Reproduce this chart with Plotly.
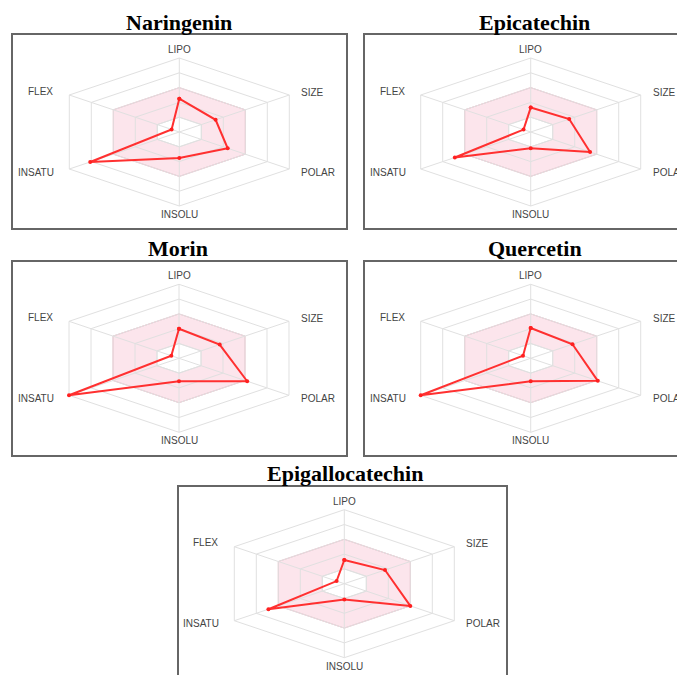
import numpy as np
import plotly.graph_objects as go

# ---------------- data ----------------
axes_labels = ["LIPO", "SIZE", "POLAR", "INSOLU", "INSATU", "FLEX"]
axes_angles = [90, 30, -30, -90, -150, 150]          # degrees
grid_levels = [0.2, 0.4, 0.6, 0.8, 1.0]
optimal_outer = [0.6, 0.6, 0.6, 0.6, 0.6, 0.6]
optimal_inner = [0.2, 0.2, 0.2, 0.2, 0.2, 0.2]

compounds = ["Naringenin", "Epicatechin", "Morin", "Quercetin", "Epigallocatechin"]
naringenin = [0.45, 0.33, 0.44, 0.35, 0.81, 0.07]
epicatechin = [0.33, 0.35, 0.54, 0.22, 0.69, 0.065]
morin = [0.40, 0.37, 0.62, 0.31, 1.00, 0.07]
quercetin = [0.41, 0.38, 0.61, 0.31, 1.00, 0.07]
epigallocatechin = [0.32, 0.37, 0.60, 0.215, 0.69, 0.07]
values = [naringenin, epicatechin, morin, quercetin, epigallocatechin]

# ---------------- layout (pixels in the 685x675 window) ----------------
WIN_W, WIN_H = 685, 675
PAGE_MARGIN = 8                      # default body margin of the html page
W, H = WIN_W - PAGE_MARGIN, WIN_H - PAGE_MARGIN
SX, SY = 127.0, 74.0                 # pixels per unit radius (x stretched)

panels = [
    dict(box=(12, 34, 347, 229), c=(179.3, 132.0), t=(179, 23)),
    dict(box=(364, 34, 692, 229), c=(530.7, 132.0), t=(534, 23)),
    dict(box=(12, 261, 347, 456), c=(179.0, 358.3), t=(178, 248)),
    dict(box=(364, 261, 692, 456), c=(530.7, 358.3), t=(535, 248)),
    dict(box=(178, 486, 507, 690), c=(344.3, 583.7), t=(345, 474)),
]


def px(x):
    return (x - PAGE_MARGIN) / W


def py(y):
    return 1 - (y - PAGE_MARGIN) / H


ang = np.radians(axes_angles)
cosA, sinA = np.cos(ang), np.sin(ang)


def ring(r):
    r = np.asarray(r, dtype=float)
    x = list(r * cosA) + [r[0] * cosA[0]]
    y = list(r * sinA) + [r[0] * sinA[0]]
    return x, y


fig = go.Figure()
annotations = []
shapes = []

label_pos = {
    "LIPO": dict(xanchor="center", yanchor="bottom", xshift=0, yshift=1),
    "SIZE": dict(xanchor="left", yanchor="middle", xshift=10, yshift=3),
    "POLAR": dict(xanchor="left", yanchor="middle", xshift=10, yshift=-3),
    "INSOLU": dict(xanchor="center", yanchor="top", xshift=0, yshift=-1),
    "INSATU": dict(xanchor="right", yanchor="middle", xshift=-13, yshift=-3),
    "FLEX": dict(xanchor="right", yanchor="middle", xshift=-14, yshift=4),
}

for i, (name, vals, p) in enumerate(zip(compounds, values, panels)):
    k = "" if i == 0 else str(i + 1)
    xa, ya = "x" + k, "y" + k
    L, T, R, B = p["box"]
    cx, cy = p["c"]
    Rd = min(R, WIN_W)
    Bd = min(B, WIN_H)
    xdom = [px(L), px(Rd)]
    ydom = [py(Bd), py(T)]
    xr = [(L - cx) / SX, (Rd - cx) / SX]
    yr = [-(Bd - cy) / SY, (cy - T) / SY]
    axis_common = dict(showgrid=False, zeroline=False, showticklabels=False,
                       showline=False, ticks="", fixedrange=True)
    fig.update_layout(**{
        ("xaxis" + k): dict(domain=xdom, range=xr, anchor=ya, **axis_common),
        ("yaxis" + k): dict(domain=ydom, range=yr, anchor=xa, **axis_common),
    })

    # pink optimal band
    ox, oy = ring(optimal_outer)
    fig.add_trace(go.Scatter(x=ox, y=oy, mode="lines", fill="toself",
                             fillcolor="#fce5ec", line=dict(color="#f4b3c4", width=1),
                             hoverinfo="skip", showlegend=False, xaxis=xa, yaxis=ya))
    ix, iy = ring(optimal_inner)
    fig.add_trace(go.Scatter(x=ix, y=iy, mode="lines", fill="toself",
                             fillcolor="white", line=dict(color="#e2e2e2", width=1),
                             hoverinfo="skip", showlegend=False, xaxis=xa, yaxis=ya))
    # grid hexagons
    gx, gy = [], []
    for lv in grid_levels:
        x, y = ring([lv] * 6)
        gx += x + [None]
        gy += y + [None]
    fig.add_trace(go.Scatter(x=gx, y=gy, mode="lines",
                             line=dict(color="#e0e0e0", width=1),
                             hoverinfo="skip", showlegend=False, xaxis=xa, yaxis=ya))
    # spokes
    sx, sy = [], []
    for c, s in zip(cosA, sinA):
        sx += [0, c, None]
        sy += [0, s, None]
    fig.add_trace(go.Scatter(x=sx, y=sy, mode="lines",
                             line=dict(color="#e0e0e0", width=1),
                             hoverinfo="skip", showlegend=False, xaxis=xa, yaxis=ya))
    # compound polygon
    dx, dy = ring(vals)
    fig.add_trace(go.Scatter(x=dx, y=dy, mode="lines+markers",
                             line=dict(color="#ff3030", width=2),
                             marker=dict(color="#ff2020", size=4),
                             hoverinfo="skip", showlegend=False, xaxis=xa, yaxis=ya))
    # axis labels
    for lab, c, s in zip(axes_labels, cosA, sinA):
        annotations.append(dict(x=c, y=s, xref=xa, yref=ya, text=lab, showarrow=False,
                                font=dict(family="Liberation Sans, Arial", size=10, color="#444"),
                                **label_pos[lab]))
    # title
    tx, ty = p["t"]
    annotations.append(dict(x=px(tx), y=py(ty), xref="paper", yref="paper",
                            text="<b>" + name + "</b>", showarrow=False,
                            xanchor="center", yanchor="middle",
                            font=dict(family="Liberation Serif, Times New Roman", size=22,
                                      color="black")))
    # box border
    shapes.append(dict(type="rect", xref="paper", yref="paper",
                       x0=px(L), x1=px(R), y0=py(B), y1=py(T),
                       line=dict(color="#666666", width=2), fillcolor="rgba(0,0,0,0)"))

fig.update_layout(width=W, height=H, autosize=False,
                  margin=dict(l=0, r=0, t=0, b=0),
                  paper_bgcolor="white", plot_bgcolor="white",
                  annotations=annotations, shapes=shapes, showlegend=False)

fig.write_html("out.html")
